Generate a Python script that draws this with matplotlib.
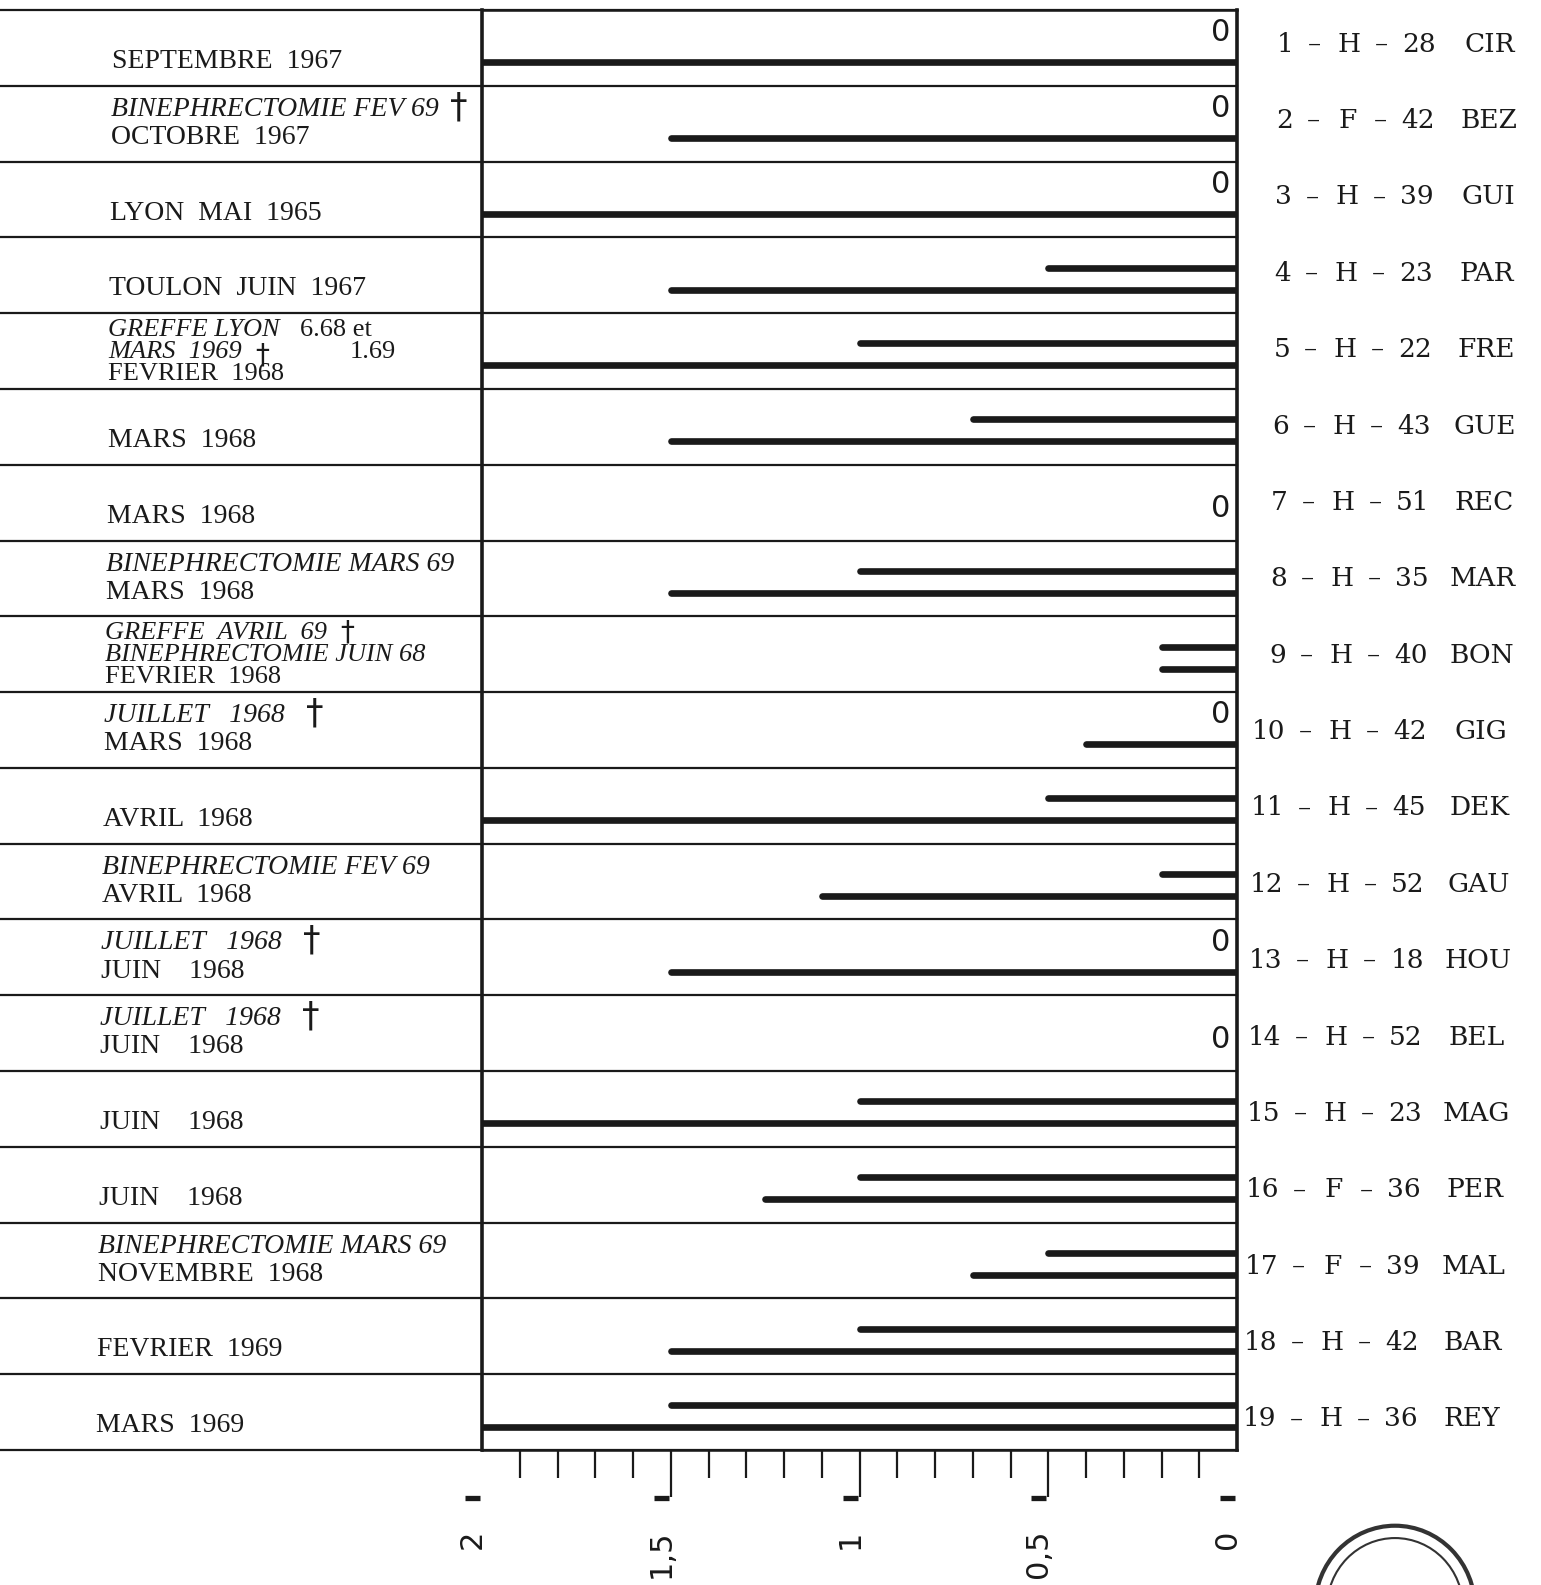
import numpy as np
import matplotlib
matplotlib.use("Agg")
import matplotlib.pyplot as plt
from matplotlib.patches import Circle

# ---------------- data ----------------
dates = ["SEPTEMBRE  1967", "OCTOBRE  1967", "LYON  MAI  1965", "TOULON  JUIN  1967",
         "FEVRIER  1968", "MARS  1968", "MARS  1968", "MARS  1968", "FEVRIER  1968",
         "MARS  1968", "AVRIL  1968", "AVRIL  1968", "JUIN    1968", "JUIN    1968",
         "JUIN    1968", "JUIN    1968", "NOVEMBRE  1968", "FEVRIER  1969", "MARS  1969"]
events = [[], ["BINEPHRECTOMIE FEV 69\u2020"], [], [],
          ["GREFFE LYON", "MARS  1969\u2020"], [], [], ["BINEPHRECTOMIE MARS 69"],
          ["GREFFE  AVRIL  69\u2020", "BINEPHRECTOMIE JUIN 68"], ["JUILLET   1968 \u2020"], [],
          ["BINEPHRECTOMIE FEV 69"], ["JUILLET   1968 \u2020"], ["JUILLET   1968 \u2020"], [], [],
          ["BINEPHRECTOMIE MARS 69"], [], []]
row5_suffix = ["6.68 et", "1.69"]
numbers = list(range(1, 20))
sexes = ["H", "F", "H", "H", "H", "H", "H", "H", "H", "H",
         "H", "H", "H", "H", "H", "F", "F", "H", "H"]
ages = [28, 42, 39, 23, 22, 43, 51, 35, 40, 42, 45, 52, 18, 52, 23, 36, 39, 42, 36]
names = ["CIR", "BEZ", "GUI", "PAR", "FRE", "GUE", "REC", "MAR", "BON", "GIG",
         "DEK", "GAU", "HOU", "BEL", "MAG", "PER", "MAL", "BAR", "REY"]
nan = np.nan
upper_vals = [nan, nan, nan, 0.5, 1.0, 0.7, nan, 1.0, 0.2, nan,
              0.5, 0.2, nan, nan, 1.0, 1.0, 0.5, 1.0, 1.5]
lower_vals = [2.0, 1.5, 2.0, 1.5, 2.0, 1.5, nan, 1.5, 0.2, 0.4,
              2.0, 1.1, 1.5, nan, 2.0, 1.25, 0.7, 1.5, 2.0]
zero_rows = [1, 2, 3, 7, 10, 13, 14]
tick_vals = [2, 1.5, 1, 0.5, 0]
tick_labels = ["2", "1,5", "1", "0,5", "0"]

# ---------------- figure ----------------
W, H = 1541, 1585
fig = plt.figure(figsize=(W / 100, H / 100), dpi=100)
fig.patch.set_facecolor("white")
renderer = fig.canvas.get_renderer()

L, R, T, B = 482, 1237, 10, 1450
ax = fig.add_axes([L / W, 1 - B / H, (R - L) / W, (B - T) / H])
n = len(dates)
ax.set_xlim(2, 0)
ax.set_ylim(n, 0)
ink = "#1a1a1a"
for s in ["left", "right"]:
    ax.spines[s].set_linewidth(2.6)
    ax.spines[s].set_color(ink)
for s in ["top", "bottom"]:
    ax.spines[s].set_linewidth(1.8)
    ax.spines[s].set_color(ink)
ax.set_yticks([])

# ticks
ax.set_xticks([1.5, 1.0, 0.5])
ax.set_xticklabels([])
minor = [v for v in np.round(np.arange(0.1, 1.95, 0.1), 2) if v not in (0.5, 1.0, 1.5)]
ax.set_xticks(minor, minor=True)
ax.tick_params(axis="x", which="major", length=34, width=1.6, color=ink, direction="out")
ax.tick_params(axis="x", which="minor", length=20, width=1.6, color=ink, direction="out")

xax = ax.get_xaxis_transform()
yax = ax.get_yaxis_transform()
for v, lab in zip(tick_vals, tick_labels):
    ax.text(v + 0.025, -0.055, lab, transform=xax, rotation=90, ha="center", va="top",
            fontsize=22, family="DejaVu Sans", color=ink, clip_on=False)
    ax.plot([v + 0.045, v + 0.005], [-0.0335, -0.0335], transform=xax, color=ink, lw=3.8,
            solid_capstyle="butt", clip_on=False)

# row separators (extend over the left column)
x0 = -L / (R - L)
for r in range(n + 1):
    ax.plot([x0, 1], [r, r], transform=yax, color=ink, lw=1.6, clip_on=False)

# bars
for i in range(n):
    if not np.isnan(upper_vals[i]):
        ax.hlines(i + 0.40, upper_vals[i], 0, color=ink, lw=4.8, capstyle="round")
    if not np.isnan(lower_vals[i]):
        ax.hlines(i + 0.69, lower_vals[i], 0, color=ink, lw=4.8, capstyle="round")

for rnum in zero_rows:
    i = rnum - 1
    has_bar = not (np.isnan(upper_vals[i]) and np.isnan(lower_vals[i]))
    yy = i + (0.30 if has_bar else 0.58)
    ax.text(0.018, yy, "0", ha="right", va="center", fontsize=22,
            family="DejaVu Sans", color=ink)

# left column text
ax_w_px = R - L
ax_x0 = ax.get_window_extent(renderer).x0
for i in range(n):
    xpx = 112 - 16 * i / (n - 1)
    xa = (xpx - L) / ax_w_px
    lines = events[i]
    k = len(lines) + 1
    if k == 3:
        ys = [0.22, 0.51, 0.80]
        fs = 19
    elif k == 2:
        ys = [0.31, 0.68]
        fs = 20
    else:
        ys = [0.68]
        fs = 20
    for j, t in enumerate(lines):
        dag = t.endswith("\u2020")
        txt = t.rstrip("\u2020").rstrip() if dag else t
        tt = ax.text(xa, i + ys[j], txt, transform=yax, ha="left", va="center", fontsize=fs,
                     family="Liberation Serif", style="italic", color=ink, clip_on=False)
        if dag:
            bb = tt.get_window_extent(renderer)
            gap = 30 if t.endswith(" \u2020") else 20
            dx = (bb.x1 + gap - ax_x0) / ax_w_px
            dy = -0.03 if k < 3 else (0.05 if j == 1 else 0.0)
            ax.text(dx, i + ys[j] + dy, "\u2020", transform=yax, ha="center", va="center",
                    fontsize=25 if k < 3 else 20, family="DejaVu Sans", color=ink,
                    clip_on=False)
    ax.text(xa, i + ys[-1], dates[i], transform=yax, ha="left", va="center", fontsize=fs,
            family="Liberation Serif", color=ink, clip_on=False)
    if i == 4:
        for j, (t, sx) in enumerate(zip(row5_suffix, [300, 350])):
            ax.text((sx - L) / ax_w_px, i + ys[j], t, transform=yax, ha="left", va="center",
                    fontsize=fs, family="Liberation Serif", color=ink, clip_on=False)

# right column text
rfs = 19
for i in range(n):
    sh = -18 * i / (n - 1)
    yy = i + 0.45 + 0.14 * i / (n - 1)
    def ra(px):
        return (px + sh - L) / ax_w_px
    kw = dict(transform=yax, va="center", fontsize=rfs, family="DejaVu Serif",
              color=ink, clip_on=False)
    ax.text(ra(1294), yy, str(numbers[i]), ha="right", **kw)
    ax.text(ra(1314), yy, "\u2013", ha="center", **kw)
    ax.text(ra(1349), yy, sexes[i], ha="center", **kw)
    ax.text(ra(1381), yy, "\u2013", ha="center", **kw)
    ax.text(ra(1419), yy, str(ages[i]), ha="center", **kw)
    ax.text(ra(1490), yy, names[i], ha="center", **kw)

# stamp (partially visible at bottom-right)
for rad, lw in [(80, 3.0), (68, 1.5)]:
    c = Circle((1395 / W, 1 - 1608 / H), rad / W, transform=fig.transFigure,
               fill=False, ec="#333333", lw=lw)
    fig.patches.append(c)

fig.savefig("out.png", dpi=100, facecolor="white")
